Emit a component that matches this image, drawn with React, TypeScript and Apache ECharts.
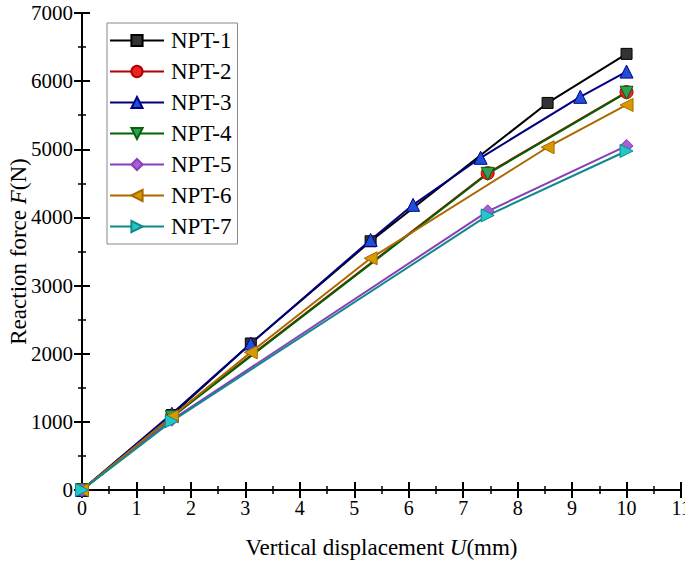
import React, { useEffect, useRef } from 'react';
import * as echarts from 'echarts';

const seriesNames = ['NPT-1', 'NPT-2', 'NPT-3', 'NPT-4', 'NPT-5', 'NPT-6', 'NPT-7'];

// [U (mm), F (N)]
const npt1 = [[0, 0], [1.65, 1100], [3.1, 2150], [5.3, 3650], [8.55, 5680], [10, 6400]];
const npt2 = [[0, 0], [1.65, 1080], [7.45, 4650], [10, 5840]];
const npt3 = [[0, 0], [1.65, 1120], [3.1, 2150], [5.3, 3670], [6.08, 4185], [7.32, 4875], [9.15, 5770], [10, 6140]];
const npt4 = [[0, 0], [1.65, 1070], [7.45, 4640], [10, 5830]];
const npt5 = [[0, 0], [1.65, 1030], [7.45, 4090], [10, 5050]];
const npt6 = [[0, 0], [1.65, 1080], [3.1, 2020], [5.3, 3400], [8.55, 5030], [10, 5650]];
const npt7 = [[0, 0], [1.65, 1010], [7.45, 4030], [10, 4975]];

const seriesData = [npt1, npt2, npt3, npt4, npt5, npt6, npt7];

const lineColors = ['#000000', '#b00000', '#000080', '#006400', '#8a3fb8', '#a86a00', '#0e8a8a'];
const markerColors = ['#333333', '#ee2020', '#1f4fd8', '#2e9e5a', '#a55fd6', '#d69a00', '#22c8c8'];
const symbols = ['rect', 'circle', 'triangle', 'triangle', 'diamond', 'triangle', 'triangle'];
const rotations = [0, 0, 0, 180, 0, 90, -90];

const serif = 'Liberation Serif, serif';

const App: React.FC = () => {
  const chartRef = useRef<HTMLDivElement>(null);

  useEffect(() => {
    document.body.style.margin = '0';
    if (!chartRef.current) return;
    const chart = echarts.init(chartRef.current, undefined, { renderer: 'svg' });

    const axisLine = { show: true, lineStyle: { color: '#000', width: 2 } };
    const axisTick = { show: true, inside: true, length: 8, lineStyle: { color: '#000', width: 2 } };
    const minorTick = { show: true, splitNumber: 2, length: 4, lineStyle: { color: '#000', width: 1.5 } };
    const nameRich = {
      n: { fontFamily: serif, fontSize: 23, color: '#000' },
      i: { fontFamily: serif, fontSize: 23, color: '#000', fontStyle: 'italic' },
    };

    const option = {
      animation: false,
      backgroundColor: '#fff',
      textStyle: { fontFamily: serif },
      grid: { left: 82, right: 4, top: 13, bottom: 73, outerBoundsMode: 'none' },
      legend: {
        orient: 'vertical',
        left: 107,
        top: 23,
        padding: [6, 6, 6, 2],
        itemGap: 8,
        itemWidth: 54,
        itemHeight: 14,
        borderColor: '#888',
        borderWidth: 1,
        textStyle: { fontFamily: serif, fontSize: 23, color: '#000', padding: [0, 0, 0, 2] },
        data: seriesNames,
      },
      xAxis: [
        {
          type: 'value',
          min: 0,
          max: 11,
          interval: 1,
          name: '{n|Vertical displacement }{i|U}{n|(mm)}',
          nameLocation: 'middle',
          nameGap: 46,
          nameMoveOverlap: false,
          nameTextStyle: { rich: nameRich },
          axisLine,
          axisTick,
          minorTick,
          splitLine: { show: false },
          axisLabel: { fontFamily: serif, fontSize: 20, color: '#000', margin: 8 },
        },
        {
          type: 'value',
          position: 'top',
          min: 0,
          max: 11,
          interval: 1,
          axisLine,
          axisTick,
          minorTick,
          splitLine: { show: false },
          axisLabel: { show: false },
        },
      ],
      yAxis: [
        {
          type: 'value',
          min: 0,
          max: 7000,
          interval: 1000,
          name: '{n|Reaction force }{i|F}{n|(N)}',
          nameLocation: 'middle',
          nameGap: 52,
          nameRotate: 90,
          nameMoveOverlap: false,
          nameTextStyle: { rich: nameRich },
          axisLine,
          axisTick,
          minorTick,
          splitLine: { show: false },
          axisLabel: {
            fontFamily: serif,
            fontSize: 21,
            color: '#000',
            margin: 9,
            formatter: (v: number) => String(v),
          },
        },
        {
          type: 'value',
          position: 'right',
          min: 0,
          max: 7000,
          interval: 1000,
          axisLine,
          axisTick,
          minorTick,
          splitLine: { show: false },
          axisLabel: { show: false },
        },
      ],
      series: seriesNames.map((name, i) => ({
        name,
        type: 'line',
        xAxisIndex: 0,
        yAxisIndex: 0,
        data: seriesData[i],
        symbol: symbols[i],
        symbolRotate: rotations[i],
        symbolSize: i === 0 ? 11 : 13,
        showAllSymbol: true,
        lineStyle: { color: lineColors[i], width: 2 },
        itemStyle: { color: markerColors[i], borderColor: lineColors[i], borderWidth: 1 },
      })),
    };

    chart.setOption(option);
    return () => chart.dispose();
  }, []);

  return <div ref={chartRef} style={{ width: 685, height: 563 }} />;
};

export default App;
